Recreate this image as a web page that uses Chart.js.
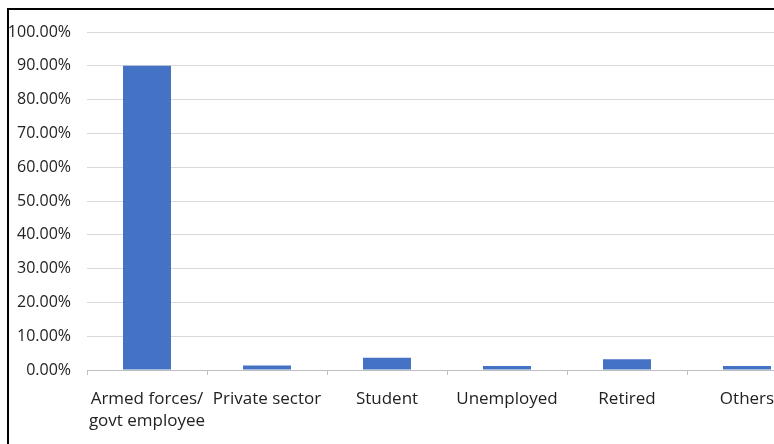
<!DOCTYPE html>
<html>
<head>
<meta charset="utf-8">
<script src="https://cdn.jsdelivr.net/npm/chart.js@4/dist/chart.umd.min.js"></script>
<style>
  html, body { margin: 0; padding: 0; background: #fff; overflow: hidden; }
  #frame {
    position: absolute; left: 7px; top: 8px; width: 800px; height: 460px;
    border-top: 2px solid #000; border-left: 2px solid #000;
  }
  #wrap { position: absolute; left: 0; top: 0; width: 820px; height: 444px; }
</style>
</head>
<body>
<div id="frame"></div>
<div id="wrap"><canvas id="chart" width="820" height="444"></canvas></div>
<script>
  // occupation categories and share of respondents (%)
  const categories = [['Armed forces/', 'govt employee'], 'Private sector', 'Student', 'Unemployed', 'Retired', 'Others'];
  const shares = [90, 1.3, 3.6, 1.2, 3.2, 1.2];
  const yTicks = [0, 10, 20, 30, 40, 50, 60, 70, 80, 90, 100];

  const FONT = 'Open Sans';
  const TEXT = '#222';

  new Chart(document.getElementById('chart'), {
    type: 'bar',
    data: {
      labels: categories,
      datasets: [{
        data: shares,
        backgroundColor: '#4472c4',
        borderWidth: 0,
        categoryPercentage: 1,
        barPercentage: 0.4,
      }],
    },
    options: {
      responsive: false,
      animation: false,
      layout: { padding: { top: 32, right: 13, bottom: 0, left: 0 } },
      plugins: { legend: { display: false }, tooltip: { enabled: false } },
      scales: {
        x: {
          offset: true,
          border: { color: '#bfbfbf', width: 1 },
          grid: { offset: true, drawOnChartArea: false, color: '#bfbfbf', tickLength: 5 },
          ticks: {
            color: TEXT, padding: 13, maxRotation: 0, autoSkip: false,
            font: { family: FONT, size: 17, lineHeight: 1.3 },
          },
          afterFit: (scale) => { scale.height = 74; },
        },
        y: {
          min: 0, max: 100,
          border: { display: false },
          grid: { color: '#d9d9d9', drawTicks: false },
          afterBuildTicks: (scale) => { scale.ticks = yTicks.map((v) => ({ value: v })); },
          ticks: {
            color: TEXT, padding: 16,
            font: { family: FONT, size: 16 },
            callback: (v) => v.toFixed(2) + '%',
          },
          afterFit: (scale) => { scale.width = 87; },
        },
      },
    },
  });
</script>
</body>
</html>
